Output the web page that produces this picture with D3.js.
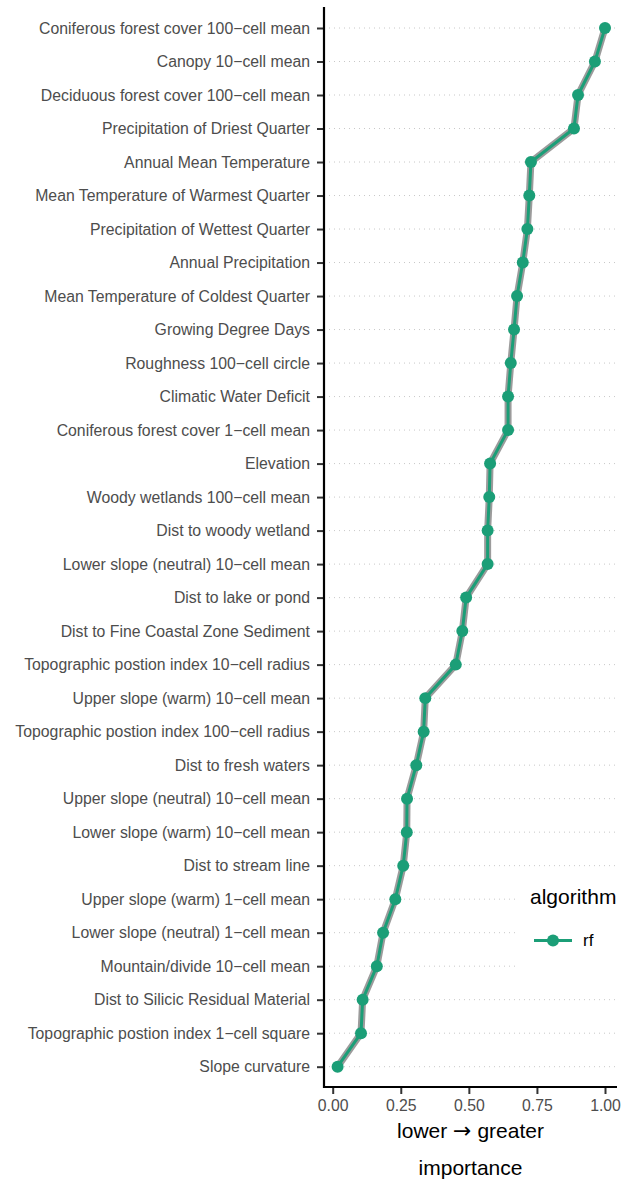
<!DOCTYPE html>
<html><head><meta charset="utf-8">
<script src="https://cdn.jsdelivr.net/npm/d3@7"></script>
<style>body{margin:0;background:#fff}svg{display:block}text{font-family:"Liberation Sans",Arial,sans-serif}</style>
</head><body><svg id="c" width="629" height="1184"></svg>
<script>
const categories = [
"Coniferous forest cover 100\u2212cell mean","Canopy 10\u2212cell mean","Deciduous forest cover 100\u2212cell mean",
"Precipitation of Driest Quarter","Annual Mean Temperature","Mean Temperature of Warmest Quarter",
"Precipitation of Wettest Quarter","Annual Precipitation","Mean Temperature of Coldest Quarter",
"Growing Degree Days","Roughness 100\u2212cell circle","Climatic Water Deficit",
"Coniferous forest cover 1\u2212cell mean","Elevation","Woody wetlands 100\u2212cell mean",
"Dist to woody wetland","Lower slope (neutral) 10\u2212cell mean","Dist to lake or pond",
"Dist to Fine Coastal Zone Sediment","Topographic postion index 10\u2212cell radius","Upper slope (warm) 10\u2212cell mean",
"Topographic postion index 100\u2212cell radius","Dist to fresh waters","Upper slope (neutral) 10\u2212cell mean",
"Lower slope (warm) 10\u2212cell mean","Dist to stream line","Upper slope (warm) 1\u2212cell mean",
"Lower slope (neutral) 1\u2212cell mean","Mountain/divide 10\u2212cell mean","Dist to Silicic Residual Material",
"Topographic postion index 1\u2212cell square","Slope curvature"];
const rfValues = [1.00,0.963,0.901,0.886,0.728,0.722,0.715,0.698,0.677,0.666,0.654,0.644,
0.644,0.578,0.575,0.569,0.569,0.490,0.476,0.452,0.340,0.334,0.307,0.273,
0.272,0.259,0.230,0.185,0.162,0.110,0.104,0.018];
const xTicks = [0,0.25,0.5,0.75,1];
const seriesName = "rf";
const legendTitle = "algorithm";

const svg = d3.select("#c");
const x = d3.scaleLinear().domain([0,1]).range([332.7,605]);
const y = d3.scalePoint().domain(categories).range([28,1066.7]);
const axisLeft = 324, axisBottom = 1087;
const green = "#1b9e77";
const FS = 15.8;

// gridlines
const g = svg.append("g");
g.selectAll("line.grid").data(categories).join("line")
 .attr("x1",329).attr("x2",616).attr("y1",d=>y(d)).attr("y2",d=>y(d))
 .attr("stroke","#c8c8c8").attr("stroke-width",1).attr("stroke-dasharray","1,4");

const data = categories.map((c,i)=>({c,v:rfValues[i]}));
const line = d3.line().x(d=>x(d.v)).y(d=>y(d.c));
g.append("path").datum(data).attr("d",line).attr("fill","none")
 .attr("stroke","#8a8a8a").attr("stroke-opacity",0.85).attr("stroke-width",7).attr("stroke-linejoin","round");
g.append("path").datum(data).attr("d",line).attr("fill","none")
 .attr("stroke",green).attr("stroke-width",3).attr("stroke-linejoin","round");
g.selectAll("circle").data(data).join("circle")
 .attr("cx",d=>x(d.v)).attr("cy",d=>y(d.c)).attr("r",6).attr("fill",green);

// legend
const lg = svg.append("g");
lg.append("rect").attr("x",516).attr("y",878).attr("width",113).attr("height",104).attr("fill","#fff");
lg.append("text").attr("x",530).attr("y",904).attr("font-size",21).attr("fill","#000").text(legendTitle);
lg.append("line").attr("x1",534).attr("x2",572).attr("y1",940.5).attr("y2",940.5).attr("stroke",green).attr("stroke-width",3);
lg.append("circle").attr("cx",553).attr("cy",940.5).attr("r",6).attr("fill",green);
lg.append("text").attr("x",583).attr("y",946).attr("font-size",17).attr("fill","#000").text(seriesName);

// y axis
const ya = svg.append("g").attr("transform",`translate(${axisLeft},0)`)
 .call(d3.axisLeft(y).tickSize(7).tickPadding(7));
ya.select(".domain").remove();
ya.selectAll(".tick line").attr("stroke","#333").attr("stroke-width",2);
ya.selectAll(".tick text").attr("font-size",FS).attr("fill","#4d4d4d").attr("font-family","Liberation Sans, Arial, sans-serif");
svg.append("line").attr("x1",axisLeft).attr("x2",axisLeft).attr("y1",7).attr("y2",axisBottom+1).attr("stroke","#000").attr("stroke-width",2.2);

// x axis
const xa = svg.append("g").attr("transform",`translate(0,${axisBottom})`)
 .call(d3.axisBottom(x).tickValues(xTicks).tickFormat(d3.format(".2f")).tickSize(7).tickPadding(6));
xa.select(".domain").remove();
xa.selectAll(".tick line").attr("stroke","#333").attr("stroke-width",2);
xa.selectAll(".tick text").attr("font-size",FS).attr("fill","#4d4d4d").attr("font-family","Liberation Sans, Arial, sans-serif");
svg.append("line").attr("x1",axisLeft-1).attr("x2",617).attr("y1",axisBottom).attr("y2",axisBottom).attr("stroke","#000").attr("stroke-width",2.2);

const t1 = svg.append("text").attr("x",470.5).attr("y",1138).attr("text-anchor","middle").attr("font-size",21).attr("fill","#000");
t1.append("tspan").text("lower ");
t1.append("tspan").attr("font-family","DejaVu Sans").attr("font-size",22).text("\u2192");
t1.append("tspan").text(" greater");
svg.append("text").attr("x",470.5).attr("y",1175).attr("text-anchor","middle").attr("font-size",21).attr("fill","#000").text("importance");
</script></body></html>
